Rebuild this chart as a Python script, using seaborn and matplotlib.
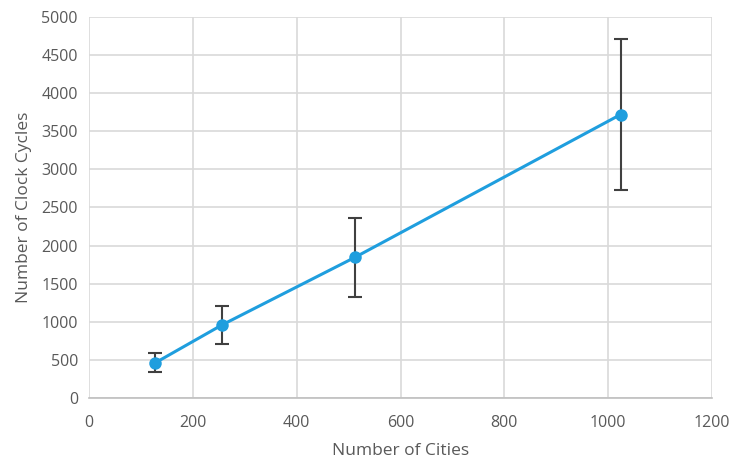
import matplotlib
matplotlib.use('Agg')
import matplotlib.pyplot as plt
import seaborn as sns
import pandas as pd

# Data
cities = [128, 256, 512, 1024]
cycles = [463, 958, 1845, 3720]
err_low = [341, 705, 1326, 2730]
err_high = [586, 1211, 2360, 4710]

sns.set_theme(style="whitegrid")
plt.rcParams['font.family'] = ['Open Sans', 'DejaVu Sans']

df = pd.DataFrame({"cities": cities, "cycles": cycles})
yerr = [[c - lo for c, lo in zip(cycles, err_low)],
        [hi - c for c, hi in zip(cycles, err_high)]]

fig = plt.figure(figsize=(7.31, 4.61), dpi=100)
ax = fig.add_axes([0.1218, 0.1367, 0.8522, 0.8265])

ax.errorbar(cities, cycles, yerr=yerr, fmt='none', ecolor='#404040',
            elinewidth=1.5, capsize=5, capthick=1.5, zorder=2)
sns.lineplot(data=df, x="cities", y="cycles", ax=ax, color='#1f9ede',
             linewidth=2.2, marker='o', markersize=9, markeredgewidth=0, zorder=3)

ax.set_xlim(0, 1200)
ax.set_ylim(0, 5000)
ax.set_xticks(range(0, 1201, 200))
ax.set_yticks(range(0, 5001, 500))
ax.grid(True, color='#d9d9d9', linewidth=1.2)
for s in ['left', 'top', 'right']:
    ax.spines[s].set_visible(False)
ax.spines['bottom'].set_color('#bfbfbf')
ax.spines['bottom'].set_linewidth(1.2)

ax.tick_params(axis='both', colors='#595959', labelsize=11.5, length=0)
ax.tick_params(axis='x', pad=12)
ax.tick_params(axis='y', pad=8)
ax.set_xlabel("Number of Cities", color='#595959', fontsize=12.5, labelpad=9)
ax.set_ylabel("Number of Clock Cycles", color='#595959', fontsize=12.5, labelpad=7)

fig.savefig("out.png", dpi=100)
